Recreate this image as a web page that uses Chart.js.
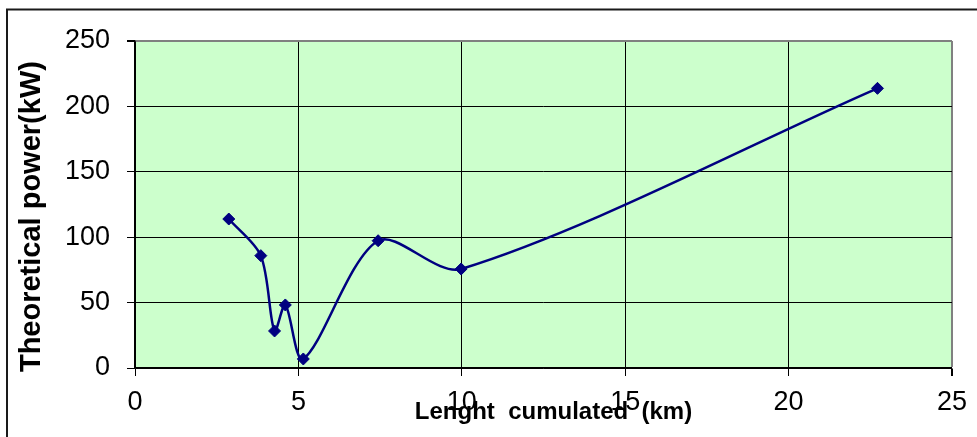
<!DOCTYPE html>
<html>
<head>
<meta charset="utf-8">
<script src="https://cdn.jsdelivr.net/npm/chart.js@4/dist/chart.umd.min.js"></script>
<style>
  body { margin: 0; background: #fff; }
  canvas { display: block; }
</style>
</head>
<body>
<canvas id="myChart" width="977" height="437"></canvas>
<script>
// data
const lengthKm = [2.87, 3.85, 4.27, 4.60, 5.15, 7.44, 9.98, 22.72];
const powerKw = [113.9, 85.9, 28.3, 48.2, 6.9, 97.3, 75.7, 213.8];
const xTicks = [0, 5, 10, 15, 20, 25];
const yTicks = [0, 50, 100, 150, 200, 250];

const points = lengthKm.map(function(x, i) {
  return { x: x, y: powerKw[i] };
});

// green plot area + the chart's outer frame
const backdrop = {
  id: 'backdrop',
  beforeDraw: function(chart) {
    const ctx = chart.ctx;
    const a = chart.chartArea;
    ctx.save();
    ctx.fillStyle = '#CCFFCC';
    ctx.fillRect(a.left, a.top, a.right - a.left, a.bottom - a.top);
    ctx.strokeStyle = '#1a1a1a';
    ctx.lineWidth = 2;
    ctx.beginPath();
    ctx.moveTo(7, 437);
    ctx.lineTo(7, 9.5);
    ctx.lineTo(977, 9.5);
    ctx.stroke();
    ctx.restore();
  }
};

function initChart() {
  const ctx = document.getElementById('myChart').getContext('2d');

  // eslint-disable-next-line no-undef
  const chart = new Chart(ctx, {
    type: 'scatter',
    data: {
      datasets: [{
        label: 'Theoretical power',
        data: points,
        showLine: true,
        tension: 0.3,
        borderColor: '#000080',
        borderWidth: 2.5,
        backgroundColor: '#000080',
        pointStyle: 'rectRot',
        pointRadius: 6,
        pointBorderWidth: 1,
        pointBorderColor: '#000080',
        clip: false
      }]
    },
    options: {
      responsive: false,
      animation: false,
      events: [],
      layout: { padding: { top: 41, right: 22, left: 0, bottom: 0 } },
      plugins: {
        legend: { display: false },
        tooltip: { enabled: false }
      },
      scales: {
        x: {
          type: 'linear',
          min: 0,
          max: 25,
          afterBuildTicks: function(scale) {
            scale.ticks = xTicks.map(function(v) { return { value: v }; });
          },
          afterFit: function(scale) { scale.height = 69; },
          grid: {
            color: function(c) { return c.tick && c.tick.value === 25 ? '#808080' : '#000'; },
            lineWidth: function(c) { return c.tick && c.tick.value === 25 ? 2 : 1; },
            tickColor: '#000',
            tickLength: 8
          },
          border: { color: '#000', width: 1.5 },
          ticks: {
            color: '#000',
            padding: 10,
            font: { family: 'Liberation Sans, Arial, sans-serif', size: 27 }
          },
          title: {
            display: true,
            text: '   Lenght  cumulated  (km)',
            color: '#000',
            padding: { top: 0, bottom: 10 },
            font: { family: 'Liberation Sans, Arial, sans-serif', size: 24, weight: 'bold' }
          }
        },
        y: {
          min: 0,
          max: 250,
          afterBuildTicks: function(scale) {
            scale.ticks = yTicks.map(function(v) { return { value: v }; });
          },
          afterFit: function(scale) { scale.width = 135; },
          grid: {
            color: function(c) { return c.tick && c.tick.value === 250 ? '#808080' : '#000'; },
            lineWidth: function(c) { return c.tick && c.tick.value === 250 ? 2 : 1; },
            tickColor: '#000',
            tickLength: 8
          },
          border: { color: '#000', width: 1.5 },
          ticks: {
            color: '#000',
            padding: 17,
            font: { family: 'Liberation Sans, Arial, sans-serif', size: 27 }
          },
          title: {
            display: true,
            text: 'Theoretical power(kW)   ',
            color: '#000',
            padding: { top: 15, bottom: 0 },
            font: { family: 'Liberation Sans, Arial, sans-serif', size: 29, weight: 'bold' }
          }
        }
      }
    },
    plugins: [backdrop]
  });
  return chart;
}

initChart();
</script>
</body>
</html>
